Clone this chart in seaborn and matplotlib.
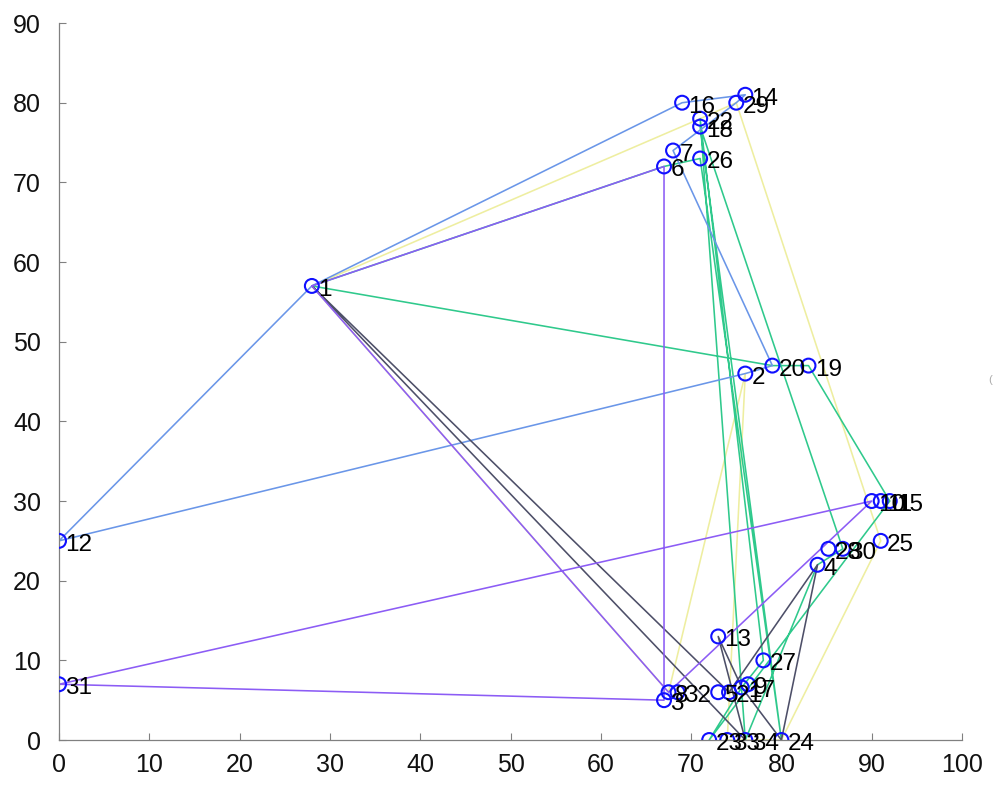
import matplotlib
matplotlib.use("Agg")
import matplotlib.pyplot as plt
import seaborn as sns
import pandas as pd

# node coordinates (node id = index + 1)
node_x = [28, 76, 67, 84, 73, 67, 68, 67.5, 76.3, 90,
          91, 0, 73, 76, 92, 69, 75.6, 71, 83, 79,
          74.2, 71, 72, 80, 91, 71, 78, 85.2, 75, 86.8,
          0, 68.5, 74, 76]
node_y = [57, 46, 5, 22, 6, 72, 74, 6, 7, 30,
          30, 25, 13, 81, 30, 80, 6.6, 77, 47, 47,
          6, 78, 0, 0, 25, 73, 10, 24, 80, 24,
          7, 6, 0, 0]

# vehicle routes (node ids), each drawn in its own colour
route_yellow = [1, 22, 29, 25, 24, 33, 2, 8, 1]
route_green = [1, 6, 26, 24, 18, 30, 4, 34, 22, 27, 17, 23, 15, 19, 20, 1]
route_blue = [1, 16, 14, 29, 7, 20, 2, 12, 1]
route_dark = [1, 21, 4, 24, 17, 13, 34, 1]
route_purple = [1, 6, 3, 31, 10, 8, 1]

routes = [route_yellow, route_green, route_blue, route_dark, route_purple]
route_colors = ["#eeeea0", "#2fc98c", "#6a96e8", "#4d4f68", "#8c5cf5"]

x_ticks = [0, 10, 20, 30, 40, 50, 60, 70, 80, 90, 100]
y_ticks = [0, 10, 20, 30, 40, 50, 60, 70, 80, 90]

sns.set_style("ticks")
plt.rcParams['font.family'] = ['Liberation Sans', 'DejaVu Sans']

fig = plt.figure(figsize=(9.97, 7.87), dpi=100)
ax = fig.add_axes([0.0592, 0.0597, 0.9057, 0.911])

for r, c in zip(routes, route_colors):
    df = pd.DataFrame({'x': [node_x[i - 1] for i in r],
                       'y': [node_y[i - 1] for i in r]})
    sns.lineplot(data=df, x='x', y='y', sort=False, estimator=None,
                 color=c, linewidth=1.15, ax=ax)

nodes = pd.DataFrame({'x': node_x, 'y': node_y})
sns.scatterplot(data=nodes, x='x', y='y', marker='o', s=100,
                facecolor='none', edgecolor='#1010ff', linewidth=1.5, ax=ax, zorder=5)

for i, (x, y) in enumerate(zip(node_x, node_y)):
    ax.text(x + 0.7, y - 0.5, str(i + 1), fontsize=17.5, color='black',
            va='center', ha='left', zorder=6)

ax.set_xlim(0, 100)
ax.set_ylim(0, 90)
ax.set_xticks(x_ticks)
ax.set_yticks(y_ticks)
ax.set_xlabel('')
ax.set_ylabel('')
ax.tick_params(direction='in', length=5, labelsize=18, labelcolor='#111111',
               color='#808080', width=0.8)
ax.tick_params(axis='x', pad=9)
ax.tick_params(axis='y', pad=13)
for s in ['left', 'bottom']:
    ax.spines[s].set_color('#808080')
    ax.spines[s].set_linewidth(0.9)
sns.despine(ax=ax)
ax.patch.set_alpha(0)

fig.text(0.991, 0.513, '(', fontsize=8, color='#aaaaaa')

fig.savefig('out.png', dpi=100)
